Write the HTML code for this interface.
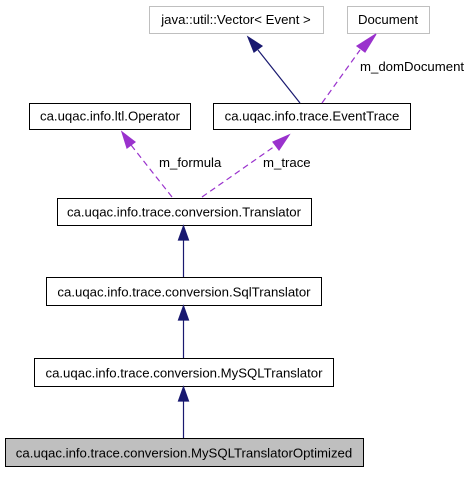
<!DOCTYPE html>
<html><head><meta charset="utf-8"><style>
html,body{margin:0;padding:0;background:#fff;}
svg text{font-family:"Liberation Sans",sans-serif;font-size:13.2px;}
</style></head><body>
<svg width="469" height="472" viewBox="0 0 469 472" xmlns="http://www.w3.org/2000/svg">
<rect x="149.5" y="6.5" width="174" height="27" fill="#fff" stroke="#bfbfbf"/>
<text x="236" y="24" text-anchor="middle" fill="#000">java::util::Vector&lt; Event &gt;</text>
<rect x="347.5" y="6.5" width="82" height="27" fill="#fff" stroke="#bfbfbf"/>
<text x="388" y="24" text-anchor="middle">Document</text>
<rect x="29.5" y="103.5" width="161" height="26" fill="#fff" stroke="#000"/>
<text x="110" y="120.5" text-anchor="middle">ca.uqac.info.ltl.Operator</text>
<rect x="213.5" y="103.5" width="197" height="26" fill="#fff" stroke="#000"/>
<text x="312" y="120.5" text-anchor="middle">ca.uqac.info.trace.EventTrace</text>
<rect x="57.5" y="198.5" width="254" height="27" fill="#fff" stroke="#000"/>
<text x="184" y="216.5" text-anchor="middle">ca.uqac.info.trace.conversion.Translator</text>
<rect x="46.5" y="277.5" width="275" height="28" fill="#fff" stroke="#000"/>
<text x="184" y="296.5" text-anchor="middle">ca.uqac.info.trace.conversion.SqlTranslator</text>
<rect x="34.5" y="358.5" width="299" height="28" fill="#fff" stroke="#000"/>
<text x="184" y="377.5" text-anchor="middle">ca.uqac.info.trace.conversion.MySQLTranslator</text>
<rect x="5.5" y="438.5" width="358" height="28" fill="#bfbfbf" stroke="#000"/>
<text x="184" y="457.5" text-anchor="middle">ca.uqac.info.trace.conversion.MySQLTranslatorOptimized</text>
<g stroke="#191970" stroke-width="1.2" fill="#191970">
<line x1="300" y1="103" x2="258" y2="50"/>
<polygon points="248,37 262,46 254,52"/>
<line x1="183.5" y1="277" x2="183.5" y2="239"/>
<polygon points="183.5,226 178.5,240 188.5,240"/>
<line x1="183.5" y1="358" x2="183.5" y2="319"/>
<polygon points="183.5,306 178.5,320 188.5,320"/>
<line x1="183.5" y1="438" x2="183.5" y2="400"/>
<polygon points="183.5,387 178.5,401 188.5,401"/>
</g>
<g stroke="#9a32cd" stroke-width="1.2" fill="#9a32cd">
<line x1="322" y1="103" x2="360" y2="50" stroke-dasharray="6,4"/>
<polygon points="376,34 365,52 357,46"/>
<line x1="172" y1="197" x2="131" y2="145" stroke-dasharray="6,4"/>
<polygon points="122,132 135,142 127,148"/>
<line x1="202" y1="197" x2="275" y2="146" stroke-dasharray="6,4"/>
<polygon points="289,135 279,150 273,142"/>
</g>
<text x="360" y="71">m_domDocument</text>
<text x="159" y="167">m_formula</text>
<text x="263" y="167">m_trace</text>
</svg>
</body></html>
